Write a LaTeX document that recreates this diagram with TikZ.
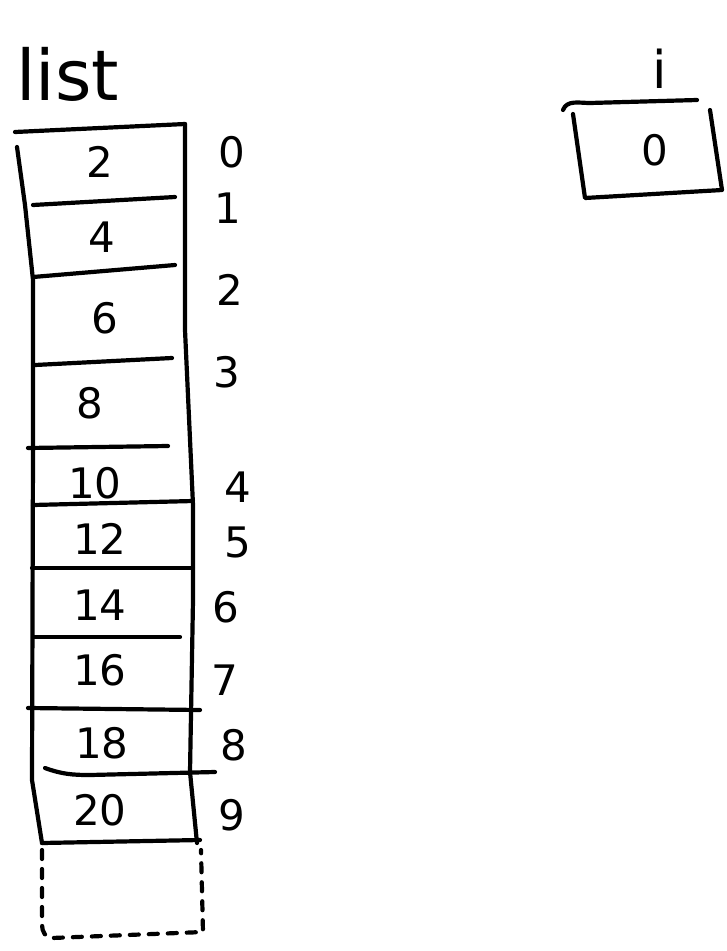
\documentclass[tikz,border=0pt]{standalone}
\usepackage{fontspec}
\setmainfont{DejaVu Sans}
\tikzset{
  pen/.style={line width=4.2pt, line cap=round, line join=round, black},
  dpen/.style={pen, dash pattern=on 9pt off 10pt},
  val/.style={font=\fontsize{42}{46}\selectfont, inner sep=0pt},
  idx/.style={font=\fontsize{42}{46}\selectfont, inner sep=0pt},
}
\begin{document}
\begin{tikzpicture}[x=1pt,y=-1pt]
\useasboundingbox (0,0) rectangle (727,951);
% list label
\node[font=\fontsize{70}{76}\selectfont, inner sep=0pt, anchor=base west] (lbl) at (16,100) {list};
% array outline
\draw[pen] (15,132) -- (185,124);
\draw[pen] (17,147) -- (25,205) -- (33,280) -- (33,450) -- (32,780) -- (42,843);
\draw[pen] (185,124) -- (185,330) -- (193,505) -- (193,600) -- (190,772) -- (197,843);
% cell separators
\draw[pen] (33,205) -- (175,197);
\draw[pen] (33,277) -- (175,265);
\draw[pen] (35,365) -- (172,358);
\draw[pen] (28,448) -- (168,446);
\draw[pen] (33,505) -- (193,501);
\draw[pen] (32,568) -- (193,568);
\draw[pen] (33,637) -- (180,637);
\draw[pen] (28,708) -- (200,710);
\draw[pen] (45,768) to[out=-20,in=180] (90,775) -- (215,772);
\draw[pen] (42,843) -- (200,840);
% dashed extra cell
\draw[dpen] (42,850) -- (42,925) to[out=-90,in=180] (52,938) -- (203,932) -- (201,850);
% values
\node[val] (v0) at (100,162) {2};
\node[val] (v1) at (102,237) {4};
\node[val] (v2) at (105,318) {6};
\node[val] (v3) at (90,403) {8};
\node[val] (v4) at (95,483) {10};
\node[val] (v5) at (100,539) {12};
\node[val] (v6) at (100,605) {14};
\node[val] (v7) at (100,670) {16};
\node[val] (v8) at (102,743) {18};
\node[val] (v9) at (100,810) {20};
% indices
\node[idx] (i0) at (232,152) {0};
\node[idx] (i1) at (228,208) {1};
\node[idx] (i2) at (230,290) {2};
\node[idx] (i3) at (227,372) {3};
\node[idx] (i4) at (238,487) {4};
\node[idx] (i5) at (238,542) {5};
\node[idx] (i6) at (226,607) {6};
\node[idx] (i7) at (225,680) {7};
\node[idx] (i8) at (234,745) {8};
\node[idx] (i9) at (232,815) {9};
% variable i
\node[font=\fontsize{52}{56}\selectfont, inner sep=0pt, anchor=base] (ilbl) at (660,88) {i};
\draw[pen] (563,110) to[out=70,in=180] (590,103) -- (697,100);
\draw[pen] (573,114) -- (585,198) -- (722,190) -- (710,110);
\node[val] (iv) at (655,150) {0};
\end{tikzpicture}
\end{document}
